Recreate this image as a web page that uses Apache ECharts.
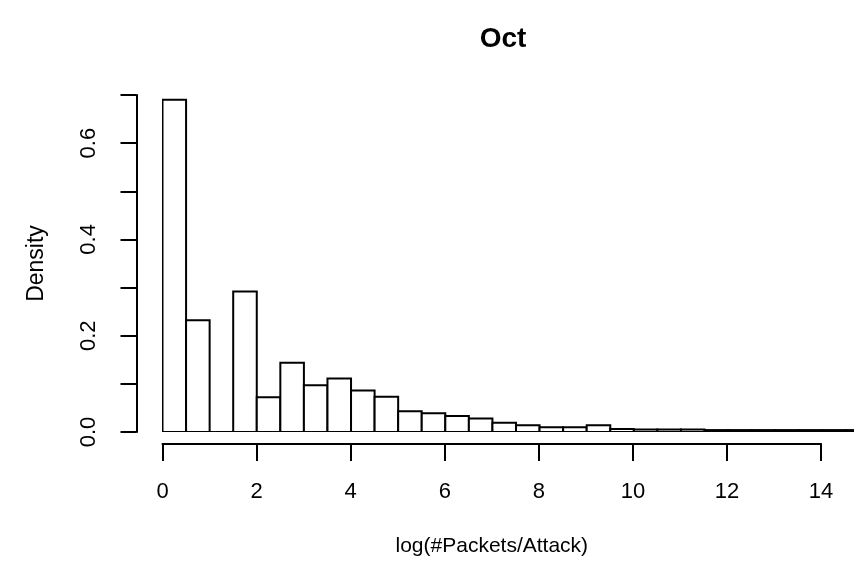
<!DOCTYPE html>
<html>
<head>
<meta charset="utf-8">
<script src="https://cdn.jsdelivr.net/npm/echarts@6/dist/echarts.min.js"></script>
<style>
  html, body { margin: 0; padding: 0; background: #fff; }
  #chart { width: 858px; height: 569px; }
</style>
</head>
<body>
<div id="chart"></div>
<script>
// Histogram of log(#Packets/Attack) for October, bin width 0.5
const binStarts = [0, 0.5, 1, 1.5, 2, 2.5, 3, 3.5, 4, 4.5, 5, 5.5, 6, 6.5, 7, 7.5, 8, 8.5, 9, 9.5,
                   10, 10.5, 11, 11.5, 12, 12.5, 13, 13.5, 14, 14.5];
const densities = [0.690, 0.232, 0.000, 0.292, 0.072, 0.144, 0.097, 0.111, 0.086, 0.073,
                   0.043, 0.039, 0.033, 0.028, 0.019, 0.014, 0.010, 0.010, 0.014, 0.006,
                   0.005, 0.005, 0.005, 0.004, 0.004, 0.004, 0.004, 0.004, 0.004, 0.004];
const binWidth = 0.5;
const xTicks = [0, 2, 4, 6, 8, 10, 12, 14];
const yLabelled = ['0.0', '0.2', '0.4', '0.6'];

const FONT = '"Liberation Sans", Arial, Helvetica, sans-serif';
const seriesData = binStarts.map((s, i) => [s, s + binWidth, densities[i]]);

const chart = echarts.init(document.getElementById('chart'), null, { renderer: 'canvas' });
chart.setOption({
  animation: false,
  backgroundColor: '#ffffff',
  title: {
    text: 'Oct',
    left: 498,
    top: 20,
    textAlign: 'center',
    textStyle: { fontFamily: FONT, fontSize: 28, fontWeight: 'bold', color: '#000' }
  },
  grid: [
    { left: 162.5, right: 5, top: 95, bottom: 137 },
    { left: 162.5, width: 658.6, top: 95, bottom: 137 }
  ],
  xAxis: [
    { gridIndex: 0, type: 'value', min: 0, max: 14.65, show: false },
    {
      gridIndex: 1, type: 'value', min: 0, max: 14, interval: 2,
      position: 'bottom', offset: 12,
      name: 'log(#Packets/Attack)', nameLocation: 'middle', nameGap: 92,
      nameTextStyle: { fontFamily: FONT, fontSize: 21, color: '#000' },
      axisLine: { show: true, onZero: false, lineStyle: { color: '#000', width: 2 } },
      axisTick: { show: true, length: 17, lineStyle: { color: '#000', width: 2 } },
      axisLabel: {
        margin: 37, fontFamily: FONT, fontSize: 22, color: '#000',
        formatter: v => (xTicks.includes(v) ? String(v) : '')
      },
      splitLine: { show: false }
    }
  ],
  yAxis: [
    {
      gridIndex: 0, type: 'value', min: 0, max: 0.7, interval: 0.1,
      position: 'left', offset: 26,
      name: 'Density', nameLocation: 'middle', nameGap: 88, nameRotate: 90,
      nameTextStyle: { fontFamily: FONT, fontSize: 23, color: '#000' },
      axisLine: { show: true, onZero: false, lineStyle: { color: '#000', width: 2 } },
      axisTick: { show: true, length: 16, lineStyle: { color: '#000', width: 2 } },
      axisLabel: {
        rotate: 90, margin: 37, fontFamily: FONT, fontSize: 22, color: '#000',
        formatter: v => {
          const s = v.toFixed(1);
          return yLabelled.includes(s) ? s : '';
        }
      },
      splitLine: { show: false }
    },
    { gridIndex: 1, type: 'value', min: 0, max: 0.7, show: false }
  ],
  series: [{
    type: 'custom',
    xAxisIndex: 0,
    yAxisIndex: 0,
    clip: true,
    data: seriesData,
    encode: { x: [0, 1], y: 2 },
    renderItem: (params, api) => {
      const topLeft = api.coord([api.value(0), api.value(2)]);
      const bottomRight = api.coord([api.value(1), 0]);
      return {
        type: 'rect',
        shape: {
          x: topLeft[0],
          y: topLeft[1],
          width: bottomRight[0] - topLeft[0],
          height: bottomRight[1] - topLeft[1]
        },
        style: { fill: '#ffffff', stroke: '#000000', lineWidth: 2 }
      };
    }
  }]
});
</script>
</body>
</html>
